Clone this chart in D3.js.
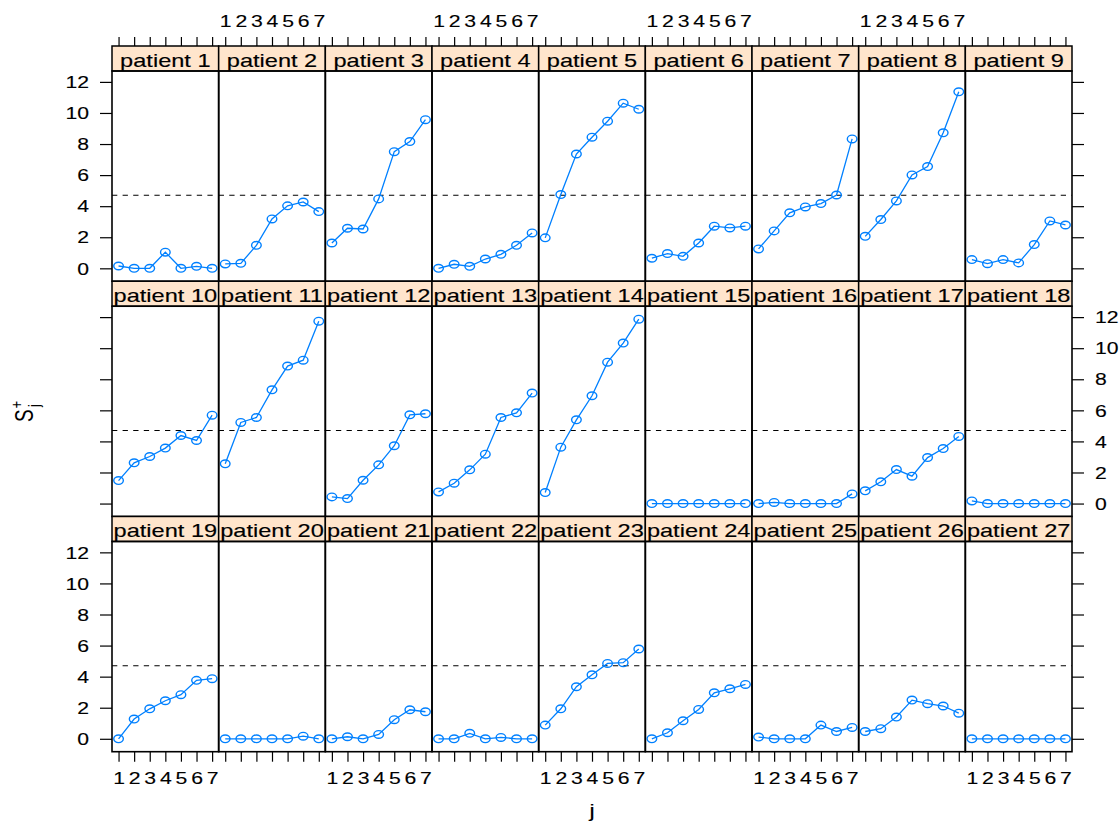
<!DOCTYPE html>
<html>
<head>
<meta charset="utf-8">
<script src="https://cdn.jsdelivr.net/npm/d3@7"></script>
<style>
  html, body { margin: 0; padding: 0; background: #fff; }
  svg { display: block; }
  text { font-family: "Liberation Sans", Arial, Helvetica, sans-serif; fill: #000; }
</style>
</head>
<body>
<svg id="chart" width="1120" height="823"></svg>
<script>
// Observation index within each patient
const jValues = [1, 2, 3, 4, 5, 6, 7];
const yTicks = [0, 2, 4, 6, 8, 10, 12];
// Decision threshold for the upper CUSUM
const threshold = 4.7;

// Upper CUSUM S_j^+ per patient
const p1  = [0.15, 0, 0, 1.04, 0, 0.13, 0];
const p2  = [0.28, 0.32, 1.48, 3.18, 4.02, 4.27, 3.65];
const p3  = [1.63, 2.58, 2.53, 4.47, 7.51, 8.16, 9.57];
const p4  = [0, 0.26, 0.13, 0.60, 0.90, 1.48, 2.28];
const p5  = [1.96, 4.75, 7.36, 8.44, 9.47, 10.63, 10.24];
const p6  = [0.65, 0.95, 0.77, 1.63, 2.71, 2.60, 2.71];
const p7  = [1.25, 2.41, 3.57, 3.95, 4.17, 4.72, 8.33];
const p8  = [2.06, 3.14, 4.34, 6.01, 6.55, 8.72, 11.36];
const p9  = [0.56, 0.30, 0.56, 0.35, 1.53, 3.05, 2.79];
const p10 = [1.48, 2.62, 3.03, 3.57, 4.38, 4.06, 5.69];
const p11 = [2.56, 5.22, 5.54, 7.32, 8.85, 9.23, 11.74];
const p12 = [0.43, 0.32, 1.50, 2.49, 3.72, 5.71, 5.78];
const p13 = [0.75, 1.31, 2.17, 3.18, 5.54, 5.84, 7.11];
const p14 = [0.71, 3.63, 5.39, 6.94, 9.10, 10.33, 11.87];
const p15 = [0, 0, 0, 0, 0, 0, 0];
const p16 = [0, 0.07, 0, 0, 0, 0, 0.62];
const p17 = [0.82, 1.40, 2.19, 1.76, 2.96, 3.54, 4.32];
const p18 = [0.17, 0, 0, 0, 0, 0, 0];
const p19 = [0, 1.27, 1.93, 2.45, 2.84, 3.76, 3.87];
const p20 = [0, 0, 0, 0, 0, 0.17, 0];
const p21 = [0, 0.13, 0, 0.28, 1.23, 1.87, 1.74];
const p22 = [0, 0, 0.35, 0, 0.09, 0, 0];
const p23 = [0.88, 1.93, 3.35, 4.12, 4.85, 4.90, 5.78];
const p24 = [0, 0.39, 1.16, 1.89, 2.96, 3.22, 3.50];
const p25 = [0.11, 0, 0, 0, 0.88, 0.47, 0.73];
const p26 = [0.47, 0.65, 1.40, 2.49, 2.26, 2.11, 1.65];
const p27 = [0, 0, 0, 0, 0, 0, 0];

const series = [p1, p2, p3, p4, p5, p6, p7, p8, p9, p10, p11, p12, p13, p14,
                p15, p16, p17, p18, p19, p20, p21, p22, p23, p24, p25, p26, p27];
const patients = series.map((_, i) => `patient ${i + 1}`);

// ---- layout ----
const nCols = 9, nRows = 3;
const plotLeft = 112, plotRight = 1072, plotTop = 46, plotBottom = 751.7;
const stripH = 25;
const SX = 1.34;              // horizontal stretch applied to glyphs
const lineColor = "#0080ff";
const stripFill = "#ffe5cc";

const svg = d3.select("#chart");

const colBand = d3.scaleBand().domain(d3.range(nCols)).range([plotLeft, plotRight]);
const rowBand = d3.scaleBand().domain(d3.range(nRows)).range([plotTop, plotBottom]);
const panelW = colBand.bandwidth();
const panelH = rowBand.bandwidth() - stripH;

// lattice-style 7% padding on both scales
const xExt = d3.extent(jValues);
const xPad = 0.07 * (xExt[1] - xExt[0]);
const x = d3.scaleLinear().domain([xExt[0] - xPad, xExt[1] + xPad]).range([0, panelW]);

const yMax = d3.max(series, s => d3.max(s));
const yMin = d3.min(series, s => d3.min(s));
const yPad = 0.07 * (yMax - yMin);
const y = d3.scaleLinear().domain([yMin - yPad, yMax + yPad]).range([panelH, 0]);

const line = d3.line().x((d, i) => x(jValues[i])).y(d => y(d));

// ---- panels ----
series.forEach((vals, i) => {
  const col = i % nCols, row = Math.floor(i / nCols);
  const g = svg.append("g")
    .attr("transform", `translate(${colBand(col)},${rowBand(row) + stripH})`);

  // strip
  g.append("rect")
    .attr("x", 0).attr("y", -stripH)
    .attr("width", panelW).attr("height", stripH)
    .attr("fill", stripFill)
    .attr("stroke", "#000").attr("stroke-width", 1.5);
  g.append("text")
    .attr("transform", `translate(${panelW / 2},${-stripH + 20.8}) scale(${SX},1)`)
    .attr("text-anchor", "middle")
    .attr("font-size", 17.6)
    .attr("stroke", "#000").attr("stroke-width", 0.15)
    .text(patients[i]);

  // threshold
  g.append("line")
    .attr("x1", 0).attr("x2", panelW)
    .attr("y1", y(threshold)).attr("y2", y(threshold))
    .attr("stroke", "#000").attr("stroke-width", 1.1)
    .attr("stroke-dasharray", "5.3,5.3");

  // series
  g.append("path")
    .datum(vals)
    .attr("d", line)
    .attr("fill", "none")
    .attr("stroke", lineColor)
    .attr("stroke-width", 1.3);
  g.selectAll("ellipse")
    .data(vals)
    .join("ellipse")
    .attr("cx", (d, k) => x(jValues[k]))
    .attr("cy", d => y(d))
    .attr("rx", 4.8).attr("ry", 3.8)
    .attr("fill", "none")
    .attr("stroke", lineColor)
    .attr("stroke-width", 1.4);

  // border
  g.append("rect")
    .attr("width", panelW).attr("height", panelH)
    .attr("fill", "none")
    .attr("stroke", "#000").attr("stroke-width", 1.6);

  // x axes (ticks on every column, labels alternate top/bottom)
  if (row === 0) {
    const ax = g.append("g").attr("transform", `translate(0,${-stripH})`)
      .call(d3.axisTop(x).tickValues(jValues).tickSize(9).tickSizeOuter(0).tickFormat(d3.format("d")));
    ax.select(".domain").remove();
    ax.selectAll(".tick text")
      .attr("y", null).attr("dy", null)
      .attr("transform", `translate(0,-19) scale(${SX},1)`)
      .text(col % 2 === 1 ? (d => d) : "");
  }
  if (row === nRows - 1) {
    const ax = g.append("g").attr("transform", `translate(0,${panelH})`)
      .call(d3.axisBottom(x).tickValues(jValues).tickSize(10).tickSizeOuter(0).tickFormat(d3.format("d")));
    ax.select(".domain").remove();
    ax.selectAll(".tick text")
      .attr("y", null).attr("dy", null)
      .attr("transform", `translate(0,32.5) scale(${SX},1)`)
      .text(col % 2 === 0 ? (d => d) : "");
  }

  // y axes (ticks on every row, labels alternate left/right)
  if (col === 0) {
    const ay = g.append("g")
      .call(d3.axisLeft(y).tickValues(yTicks).tickSize(12).tickSizeOuter(0));
    ay.select(".domain").remove();
    ay.selectAll(".tick text")
      .attr("x", null).attr("dy", null)
      .attr("transform", `translate(-23,5.7) scale(${SX},1)`)
      .text(row % 2 === 0 ? (d => d) : "");
  }
  if (col === nCols - 1) {
    const ay = g.append("g").attr("transform", `translate(${panelW},0)`)
      .call(d3.axisRight(y).tickValues(yTicks).tickSize(12).tickSizeOuter(0));
    ay.select(".domain").remove();
    ay.selectAll(".tick text")
      .attr("x", null).attr("dy", null)
      .attr("transform", `translate(23,5.7) scale(${SX},1)`)
      .text(row % 2 === 1 ? (d => d) : "");
  }
});

svg.selectAll(".tick line").attr("stroke", "#000").attr("stroke-width", 1.2);
svg.selectAll(".tick text")
  .attr("fill", "#000").attr("font-family", null)
  .attr("font-size", 15.8)
  .attr("stroke", "#000").attr("stroke-width", 0.12);

// ---- axis titles ----
svg.append("text")
  .attr("transform", `translate(${(plotLeft + plotRight) / 2},817) scale(${SX},1)`)
  .attr("text-anchor", "middle")
  .attr("font-size", 19)
  .text("j");

const yt = svg.append("g")
  .attr("transform", `translate(33,412) scale(${SX},1) rotate(-90)`);
yt.append("text").attr("x", -10).attr("y", 0).attr("font-size", 19).text("S");
yt.append("text").attr("x", 3.5).attr("y", -8).attr("font-size", 13).text("+");
yt.append("text").attr("x", 5).attr("y", 5.5).attr("font-size", 13).text("j");
</script>
</body>
</html>
